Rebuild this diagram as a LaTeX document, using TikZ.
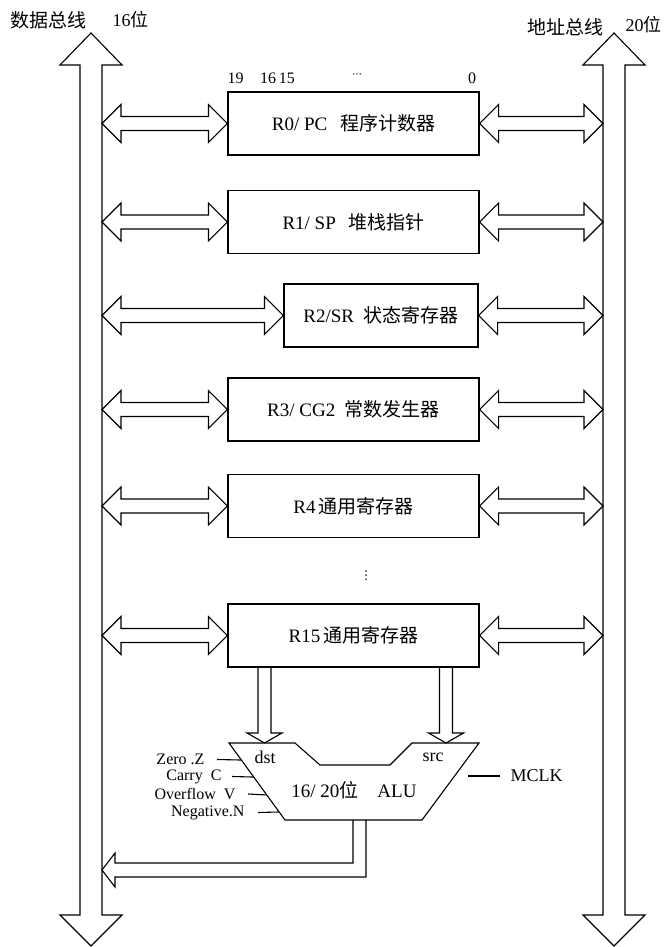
\documentclass[tikz,border=0pt]{standalone}
\usepackage{fontspec}
\setmainfont{Liberation Serif}
\newfontfamily\cjk{Noto Sans CJK SC}
\newfontfamily\dvs{DejaVu Sans}
\usetikzlibrary{calc}
\newcommand\myfs[1]{\fontsize{#1}{#1}\selectfont}
% horizontal double arrow from #1 (left tip) to #2 (right tip)
\newcommand\dbl[2]{\draw let \p1=(#1), \p2=(#2) in
  (\x1,\y1) -- (\x1+19pt,\y1+19pt) -- (\x1+19pt,\y1+7pt) -- (\x2-19pt,\y1+7pt)
  -- (\x2-19pt,\y1+19pt) -- (\x2,\y1) -- (\x2-19pt,\y1-19pt) -- (\x2-19pt,\y1-7pt)
  -- (\x1+19pt,\y1-7pt) -- (\x1+19pt,\y1-19pt) -- cycle;}
% down arrow from #1 (top of shaft) to #2 (tip)
\newcommand\darr[2]{\draw let \p1=(#1), \p2=(#2) in
  (\x1-6.5pt,\y1) -- (\x1-6.5pt,\y2+10pt) -- (\x1-17.5pt,\y2+10pt) -- (\x2,\y2)
  -- (\x1+17.5pt,\y2+10pt) -- (\x1+6.5pt,\y2+10pt) -- (\x1+6.5pt,\y1);}
\begin{document}
\begin{tikzpicture}[x=1pt,y=-1pt,line width=1.1pt,line join=miter,
  every node/.style={inner sep=0pt,font=\myfs{18}},
  reg/.style={draw,minimum height=63pt,font=\myfs{19}},
  flag/.style={anchor=east,font=\myfs{16}}]
\useasboundingbox (0,0) rectangle (666,947);

% buses
\draw (91,33) -- (122,65) -- (102,65) -- (102,915) -- (122,915) -- (91,946)
  -- (60,915) -- (80,915) -- (80,65) -- (60,65) -- cycle;
\draw (614,33) -- (645,65) -- (625,65) -- (625,915) -- (645,915) -- (614,946)
  -- (583,915) -- (603,915) -- (603,65) -- (583,65) -- cycle;
\coordinate (DBe) at (102,0);
\coordinate (ABw) at (603,0);

\node[anchor=west,font=\myfs{19}] (dbl) at (10,20) {\cjk 数据总线};
\node[anchor=west] (dbw) at (112,20) {16{\cjk 位}};
\node[anchor=west,font=\myfs{19}] (abl) at (527,27) {\cjk 地址总线};
\node[anchor=west] (abw) at (625,25) {20{\cjk 位}};

% bit numbers
\node[font=\myfs{16}] (b19) at (235.5,78) {19};
\node[font=\myfs{16}] (b16) at (277.5,78) {16\,15};
\node[font=\myfs{10}] (bdots) at (357,76) {\dvs ⋯};
\node[font=\myfs{16}] (b0) at (472,78) {0};

% registers
\node[reg,minimum width=251pt] (R0) at (353.5,123.5) {R0/ PC\enspace\,{\cjk 程序计数器}};
\node[reg,minimum width=251pt] (R1) at (353.5,222) {R1/ SP\enspace\,{\cjk 堆栈指针}};
\node[reg,minimum width=194pt] (R2) at (381,315.5) {R2/SR\enspace{\cjk 状态寄存器}};
\node[reg,minimum width=251pt] (R3) at (353.5,409.5) {R3/ CG2\enspace{\cjk 常数发生器}};
\node[reg,minimum width=251pt] (R4) at (353.5,506) {R4\,{\cjk 通用寄存器}};
\node[font=\myfs{12}] (vd) at (366,576) {\dvs ⋮};
\node[reg,minimum width=251pt] (R15) at (353.5,635.5) {R15\,{\cjk 通用寄存器}};

\foreach \r in {R0,R1,R2,R3,R4,R15}{
  \dbl{DBe |- \r.west}{\r.west}
  \dbl{\r.east}{ABw |- \r.east}
}

% ALU
\coordinate (a1) at (229,743);
\coordinate (a2) at (295,743);
\coordinate (a3) at (320,765);
\coordinate (a4) at (390,765);
\coordinate (a5) at (412,743);
\coordinate (a6) at (479,743);
\coordinate (a7) at (422,820);
\coordinate (a8) at (285,820);
\draw (a1) -- (a2) -- (a3) -- (a4) -- (a5) -- (a6) -- (a7) -- (a8) -- cycle;

\coordinate (dstin) at (264.5,743);
\coordinate (srcin) at (446,743);
\darr{R15.south -| dstin}{dstin}
\darr{R15.south -| srcin}{srcin}

\node[font=\myfs{18}] (dst) at (265,757) {dst};
\node[font=\myfs{18}] (src) at (433,757) {src};
\node[font=\myfs{19}] (alu) at (354,790) {16/ 20{\cjk 位}\quad ALU};

\node[flag] (fz) at (205,759.5) {Zero .Z};
\node[flag] (fc) at (222,776.5) {Carry\enspace C};
\node[flag] (fv) at (236,794) {Overflow\enspace V};
\node[flag] (fn) at (245,812.5) {Negative.N};
\draw ([xshift=12pt]fz.east) -- ($(a1)!0.221!(a8)$);
\draw ([xshift=10pt]fc.east) -- ($(a1)!0.442!(a8)$);
\draw ([xshift=12pt]fv.east) -- ($(a1)!0.675!(a8)$);
\draw ([xshift=13pt]fn.east) -- ($(a1)!0.896!(a8)$);

\node[anchor=west,font=\myfs{18}] (mclk) at (510,776) {MCLK};
\draw ([xshift=-10pt]mclk.west) -- ++(-32,0);

% output
\coordinate (o1) at (353,820);
\coordinate (o2) at (366,820);
\draw (o1) -- (353,863) -- (115,863) -- (115,853) -- (DBe |- 0,870) -- (115,887)
  -- (115,877) -- (366,877) -- (o2);
\end{tikzpicture}
\end{document}
